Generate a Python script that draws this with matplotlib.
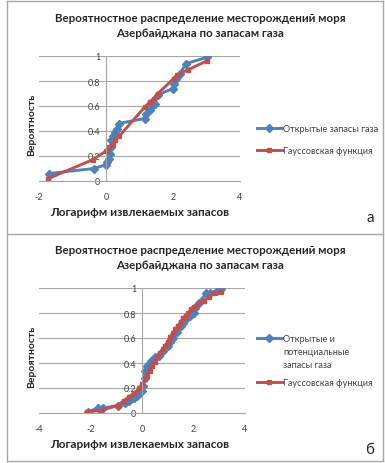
import matplotlib
matplotlib.use("Agg")
import matplotlib.pyplot as plt
from matplotlib.lines import Line2D

plt.rcParams['font.family'] = ['Lato', 'DejaVu Sans']

BLUE = "#4F81BD"
RED = "#C0504D"
GRID = "#A6A6A6"
TXT = "#404040"

title = "Вероятностное распределение месторождений моря\nАзербайджана по запасам газа"
xlab = "Логарифм извлекаемых запасов"
ylab = "Вероятность"

# (а) открытые запасы
a_obs_x = [-1.70, -0.36, 0.00, 0.03, 0.08, 0.12, 0.15, 0.16, 0.22, 0.28, 0.33, 0.38,
           1.15, 1.20, 1.30, 1.38, 1.45, 1.55, 2.00, 2.02, 2.10, 2.20, 2.40, 3.02]
a_obs_y = [0.06, 0.10, 0.13, 0.15, 0.18, 0.22, 0.27, 0.33, 0.36, 0.39, 0.42, 0.46,
           0.50, 0.54, 0.57, 0.60, 0.62, 0.69, 0.74, 0.78, 0.82, 0.86, 0.94, 0.99]
a_fit_x = [-1.72, -0.40, 0.00, 0.10, 0.20, 0.28, 0.40, 1.15, 1.30, 1.42, 1.55,
           2.02, 2.12, 2.45, 3.00]
a_fit_y = [0.02, 0.17, 0.24, 0.27, 0.30, 0.33, 0.36, 0.59, 0.63, 0.66, 0.70,
           0.82, 0.85, 0.89, 0.96]

# (б) открытые и потенциальные запасы
b_obs_x = [-2.10, -1.70, -1.50, -0.95, -0.65, -0.50, -0.30, -0.20, -0.10, 0.00, 0.05,
           0.10, 0.12, 0.20, 0.35, 0.50, 0.65, 0.80, 1.00, 1.10, 1.20, 1.35, 1.50,
           1.60, 1.70, 1.85, 2.00, 2.05, 2.20, 2.50, 2.65, 2.90, 3.05]
b_obs_y = [0.01, 0.04, 0.04, 0.06, 0.08, 0.10, 0.12, 0.14, 0.16, 0.18, 0.22,
           0.28, 0.34, 0.38, 0.42, 0.45, 0.46, 0.50, 0.54, 0.57, 0.60, 0.65, 0.70,
           0.72, 0.75, 0.78, 0.80, 0.84, 0.88, 0.96, 0.96, 0.98, 0.99]
b_fit_x = [-2.15, -1.60, -0.95, -0.70, -0.50, -0.30, -0.10, 0.00, 0.10, 0.20, 0.30,
           0.40, 0.50, 0.60, 0.70, 0.80, 0.90, 1.00, 1.10, 1.20, 1.30, 1.40, 1.50,
           1.60, 1.70, 1.80, 1.90, 2.00, 2.20, 2.40, 2.60, 2.80, 3.05]
b_fit_y = [0.01, 0.02, 0.06, 0.10, 0.13, 0.16, 0.20, 0.23, 0.27, 0.30, 0.34,
           0.38, 0.41, 0.45, 0.48, 0.51, 0.54, 0.57, 0.61, 0.64, 0.67, 0.70, 0.73,
           0.76, 0.78, 0.80, 0.83, 0.85, 0.88, 0.90, 0.93, 0.96, 0.97]

a_xticks = [-2, 0, 2, 4]
b_xticks = [-4, -2, 0, 2, 4]
yticks = [0, 0.2, 0.4, 0.6, 0.8, 1]
ytick_labels = ["0", "0.2", "0.4", "0.6", "0.8", "1"]

W, H = 385, 464
fig = plt.figure(figsize=(W / 100, H / 100), dpi=100)


def px(x, y):
    return x / W, 1 - y / H


def panel(rect, xs1, ys1, xs2, ys2, xticks, obs_label, top):
    ax = fig.add_axes(rect)
    ax.plot(xs1, ys1, color=BLUE, lw=2.1, marker="D", ms=3.6, label=obs_label)
    ax.plot(xs2, ys2, color=RED, lw=2.1, marker="s", ms=3.2, label="Гауссовская функция")
    ax.set_xlim(xticks[0], xticks[-1])
    ax.set_ylim(0, 1)
    ax.set_xticks(xticks)
    ax.set_xticklabels([str(t) for t in xticks])
    ax.set_yticks(yticks)
    ax.set_yticklabels(ytick_labels)
    ax.yaxis.grid(True, color=GRID, lw=0.8)
    ax.set_axisbelow(True)
    for s in ["top", "right"]:
        ax.spines[s].set_visible(False)
    ax.spines["left"].set_position(("data", 0))
    ax.spines["left"].set_color(GRID)
    ax.spines["bottom"].set_color(GRID)
    ax.spines["left"].set_linewidth(0.8)
    ax.spines["bottom"].set_linewidth(0.8)
    ax.tick_params(axis="both", labelsize=6.5, colors=TXT, length=0)
    ax.tick_params(axis="x", pad=8)
    ax.tick_params(axis="y", pad=4)

    fig.text(*px(200, top + 26), title, ha="center", va="center",
             fontsize=8.3, fontweight="bold", color="#262626", linespacing=1.45)
    fig.text(*px(32, top + 125), ylab, rotation=90, ha="center", va="center",
             fontsize=7.5, fontweight="bold", color="#262626")
    fig.text(*px(140, top + 213), xlab, ha="center", va="center",
             fontsize=8.5, fontweight="bold", color="#262626")
    return ax


leg_kw = dict(loc="upper left", bbox_transform=fig.transFigure, frameon=False,
              fontsize=6.6, handlelength=2.7, handletextpad=0.1, borderpad=0,
              borderaxespad=0, labelcolor=TXT)

ax1 = panel([39 / W, 1 - 182 / H, 201 / W, 125 / H], a_obs_x, a_obs_y, a_fit_x, a_fit_y,
            a_xticks, "Открытые запасы газа", 0)
ax1.legend(bbox_to_anchor=px(257, 125), labelspacing=1.45, **leg_kw)
fig.text(*px(370, 218), "а", fontsize=11, ha="center", va="center", color="#262626")

ax2 = panel([39 / W, 1 - 414 / H, 206 / W, 125 / H], b_obs_x, b_obs_y, b_fit_x, b_fit_y,
            b_xticks, "Открытые и", 232)
ax2.legend(bbox_to_anchor=px(257, 335), labelspacing=3.85, **leg_kw)
# продолжение подписи первой серии
fig.text(*px(283, 353), "потенциальные", fontsize=6.6, color=TXT, va="center")
fig.text(*px(283, 366), "запасы газа", fontsize=6.6, color=TXT, va="center")
fig.text(*px(370, 450), "б", fontsize=11, ha="center", va="center", color="#262626")

# рамки вокруг двух диаграмм
for xs, ys in [([7, 7], [2, 462]), ([383, 383], [2, 462]), ([7, 383], [2, 2]),
               ([7, 383], [462, 462]), ([7, 383], [235, 235])]:
    fig.add_artist(Line2D([x / W for x in xs], [1 - y / H for y in ys],
                          color="#A6A6A6", lw=1.0, transform=fig.transFigure))

fig.savefig("out.png", dpi=100, facecolor="white")
